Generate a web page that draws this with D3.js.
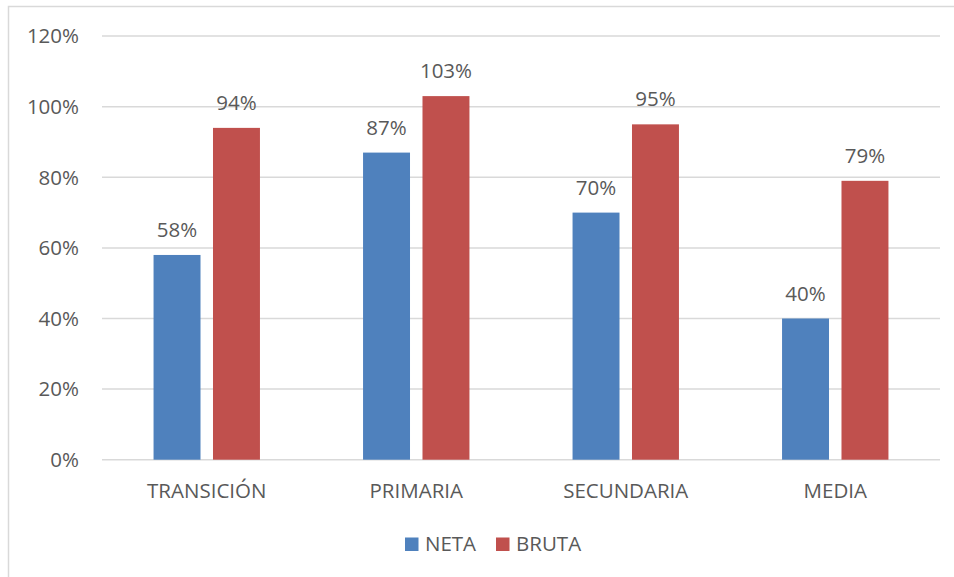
<!DOCTYPE html>
<html><head><meta charset="utf-8">
<script src="https://cdn.jsdelivr.net/npm/d3@7"></script>
<style>body{margin:0;background:#fff}svg{display:block}text{font-family:"Open Sans",sans-serif;fill:#595959}</style>
</head><body>
<script>
const categories = ["TRANSICIÓN","PRIMARIA","SECUNDARIA","MEDIA"];
const seriesNames = ["NETA","BRUTA"];
const neta = [58,87,70,40];
const bruta = [94,103,95,79];
const yTicks = [0,20,40,60,80,100,120];
const colors = ["#4F81BD","#C0504D"];

(function(){
const W=954,H=577,FS=20.5;
const svg=d3.select("body").append("svg").attr("width",W).attr("height",H);
svg.append("rect").attr("x",8.5).attr("y",6.5).attr("width",W+20).attr("height",H+20)
  .attr("fill","#fff").attr("stroke","#D9D9D9").attr("stroke-width",1.5);

const pLeft=102,pRight=940,pTop=36.1,pBottom=459.7;
const x=d3.scaleBand().domain(categories).range([pLeft,pRight]);
const xs=d3.scaleBand().domain(seriesNames).range([-29.7-23.5,29.7+23.5]).paddingInner(0.21);
const y=d3.scaleLinear().domain([0,120]).range([pBottom,pTop]);

const g=svg.append("g");
g.selectAll("line.grid").data(yTicks).join("line")
 .attr("x1",pLeft).attr("x2",pRight).attr("y1",d=>y(d)).attr("y2",d=>y(d))
 .attr("stroke","#D9D9D9").attr("stroke-width",1.5);
g.selectAll("text.yt").data(yTicks).join("text")
 .attr("x",79).attr("y",d=>y(d)+7.3).attr("text-anchor","end").attr("font-size",FS)
 .text(d=>d+"%");

const data=categories.map((c,i)=>({c,vals:[neta[i],bruta[i]]}));
const cg=g.selectAll("g.cat").data(data).join("g")
 .attr("transform",d=>`translate(${x(d.c)+x.bandwidth()/2},0)`);
cg.selectAll("rect").data(d=>d.vals.map((v,j)=>({v,s:seriesNames[j],j}))).join("rect")
 .attr("x",d=>xs(d.s)).attr("width",xs.bandwidth())
 .attr("y",d=>y(d.v)).attr("height",d=>pBottom-y(d.v)).attr("fill",d=>colors[d.j]);
cg.selectAll("text.lbl").data(d=>d.vals.map((v,j)=>({v,s:seriesNames[j],j}))).join("text")
 .attr("x",d=>xs(d.s)+xs.bandwidth()/2).attr("y",d=>y(d.v)-18).attr("text-anchor","middle")
 .attr("font-size",FS).text(d=>d.v+"%");
g.selectAll("text.xl").data(categories).join("text")
 .attr("x",d=>x(d)+x.bandwidth()/2).attr("y",498).attr("text-anchor","middle")
 .attr("font-size",FS).text(d=>d);

const lx=[405,496];
const lg=svg.selectAll("g.leg").data(seriesNames).join("g")
 .attr("transform",(d,i)=>`translate(${lx[i]},537.5)`);
lg.append("rect").attr("width",13.5).attr("height",13.5).attr("fill",(d,i)=>colors[i]);
lg.append("text").attr("x",20).attr("y",13.8).attr("font-size",FS).text(d=>d);
})();
</script>
</body></html>
